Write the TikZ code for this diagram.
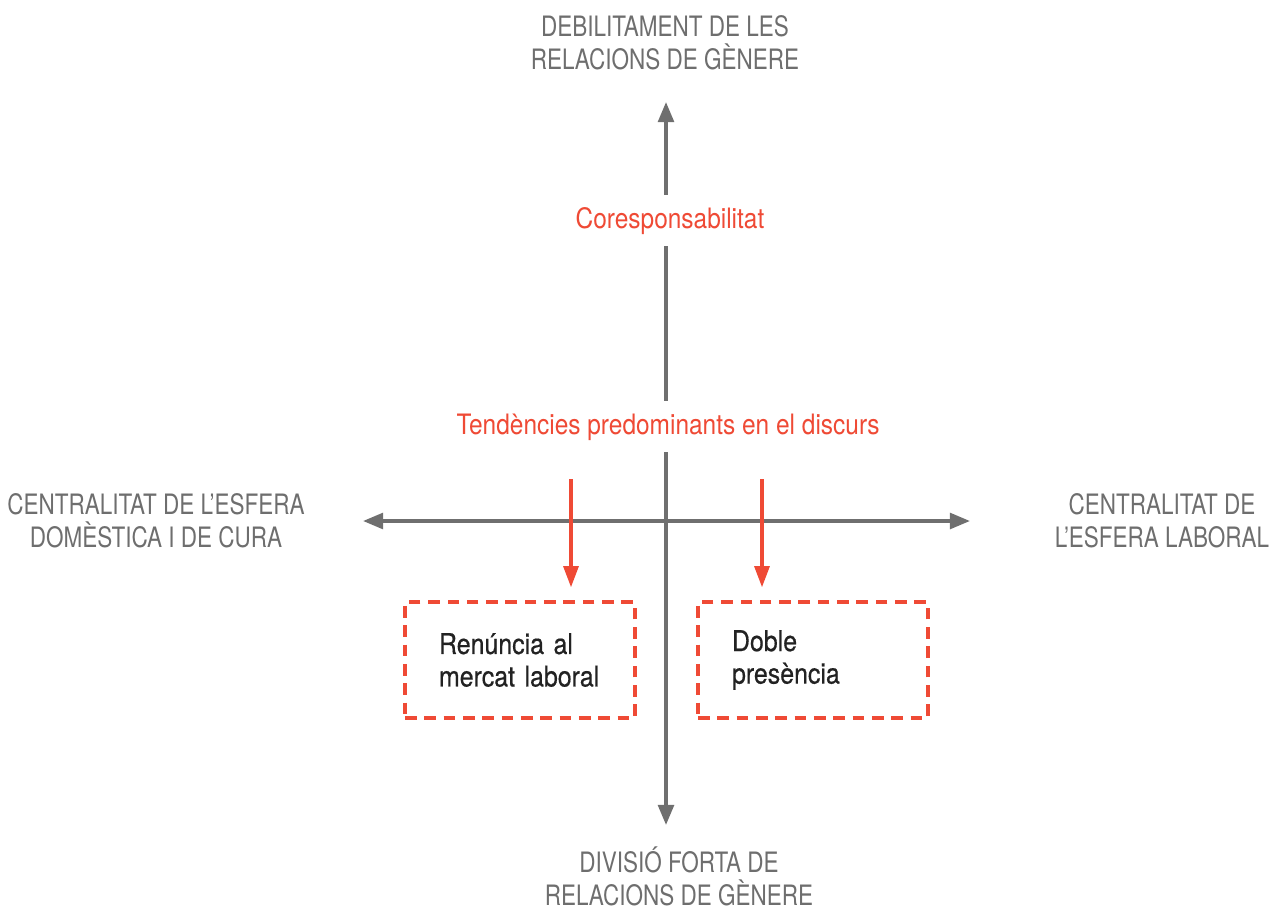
\documentclass[tikz,border=0pt]{standalone}
\usepackage{fontspec}
\setmainfont{TeX Gyre Heros}[FakeStretch=0.8]
\newfontfamily\trendfont{TeX Gyre Heros}[FakeStretch=0.87]
\newfontfamily\boxfont{TeX Gyre Heros}[FakeStretch=0.87, FakeBold=0.5]
\usetikzlibrary{arrows.meta}
\definecolor{axisgray}{HTML}{6F6F6F}
\definecolor{labelgray}{HTML}{6E6E6E}
\definecolor{discred}{HTML}{EF4A35}
\definecolor{boxtext}{HTML}{222222}
\tikzset{
	axisline/.style={draw=axisgray, line width=2pt, {Triangle[length=11.5pt,width=9pt]}-{Triangle[length=11.5pt,width=9pt]}},
	redarrow/.style={draw=discred, line width=1.8pt, -{Triangle[length=12pt,width=8.5pt]}},
	poletext/.style={text=labelgray, align=center, inner sep=0.5pt},
	trendtext/.style={text=discred, fill=white, font=\trendfont\fontsize{16}{18.8}\selectfont, inner xsep=4pt, inner ysep=7pt},
	trendbox/.style={draw=discred, line width=2pt, dash pattern=on 6.6pt off 4.4pt, text=boxtext,
		font=\boxfont\fontsize{16.3}{18.5}\selectfont,
		minimum width=4.6cm, minimum height=2.32cm, text width=3.24cm, align=left}
}
\begin{document}
\begin{tikzpicture}[x=0.02cm, y=-0.02cm, font=\fontsize{16}{18.8}\selectfont, line join=round]
	\def\xo{666} \def\yo{521} % origen
	\useasboundingbox (0,0) rectangle (1272,910);
	% eixos
	\coordinate (N) at (\xo,102);
	\coordinate (S) at (\xo,825);
	\coordinate (W) at (363,\yo);
	\coordinate (E) at (970,\yo);
	\draw[axisline] (S) -- (N);
	\draw[axisline] (W) -- (E);
	% pols
	\node[poletext] (dbl) at (665,43) {DEBILITAMENT DE LES\\RELACIONS DE GÈNERE};
	\node[poletext] (dvf) at (679,876) {DIVISIÓ FORTA DE\\RELACIONS DE GÈNERE};
	\node[poletext] (dom) at (156,521) {CENTRALITAT DE L’ESFERA\\DOMÈSTICA I DE CURA};
	\node[poletext] (lab) at (1162,521) {CENTRALITAT DE\\L’ESFERA LABORAL};
	% tendencies
	\node[trendtext, anchor=base] (cor) at (670,228) {Coresponsabilitat};
	\node[trendtext, anchor=base] (ten) at (668,434) {Tendències predominants en el discurs};
	\node[trendbox] (ren) at (520,660) {Renúncia al\\mercat laboral};
	\node[trendbox] (dob) at (813,660) {Doble\\presència};
	\coordinate (r1) at (571,479);
	\coordinate (r2) at (762,479);
	\draw[redarrow, shorten >=0.26cm] (r1) -- (r1 |- ren.north);
	\draw[redarrow, shorten >=0.26cm] (r2) -- (r2 |- dob.north);
\end{tikzpicture}
\end{document}
